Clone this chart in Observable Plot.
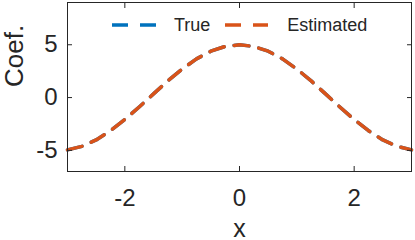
<!DOCTYPE html>
<html><head><meta charset="utf-8">
<script src="https://cdn.jsdelivr.net/npm/d3@7"></script>
<script src="https://cdn.jsdelivr.net/npm/@observablehq/plot@0.6"></script>
<style>
body{margin:0;background:#fff}
#wrap{position:relative;width:415px;height:240px;font-family:"Liberation Sans",Arial,Helvetica,sans-serif;color:#262626}
#legend{position:absolute;left:112px;top:13px;display:flex;align-items:center;font-size:18px;line-height:24px;white-space:nowrap}
#legend svg{display:block}
</style>
</head><body><div id="wrap"><div id="legend"></div></div>
<script>
const xs       = [-3, -2.75, -2.5, -2.25, -2, -1.75, -1.5, -1.25, -1, -0.75, -0.5, -0.25, 0, 0.25, 0.5, 0.75, 1, 1.25, 1.5, 1.75, 2, 2.25, 2.5, 2.75, 3];
const trueVals = [-4.95, -4.62, -4.01, -3.14, -2.08, -0.89, 0.35, 1.58, 2.70, 3.66, 4.39, 4.84, 5.00, 4.84, 4.39, 3.66, 2.70, 1.58, 0.35, -0.89, -2.08, -3.14, -4.01, -4.62, -4.95];
const estVals  = [-4.95, -4.62, -4.01, -3.14, -2.08, -0.89, 0.35, 1.58, 2.70, 3.66, 4.39, 4.84, 5.00, 4.84, 4.39, 3.66, 2.70, 1.58, 0.35, -0.89, -2.08, -3.14, -4.01, -4.62, -4.95];
const seriesNames = ["True", "Estimated"];
const seriesColors = ["#0072BD", "#D95319"];
const xTicks = [-2, 0, 2];
const yTicks = [-5, 0, 5];
const xLabel = "x";
const yLabel = "Coef.";

const data = [];
xs.forEach((x, i) => data.push({x, y: trueVals[i], series: seriesNames[0]}));
xs.forEach((x, i) => data.push({x, y: estVals[i], series: seriesNames[1]}));

const fmt = d => String(d);
const chart = Plot.plot({
  width: 415, height: 240,
  marginLeft: 67, marginRight: 4, marginTop: 2, marginBottom: 69,
  style: {fontFamily: '"Liberation Sans", Arial, Helvetica, sans-serif', fontSize: "24px", color: "#262626", background: "white", overflow: "visible"},
  x: {domain: [-3, 3]},
  y: {domain: [-7, 9]},
  color: {domain: seriesNames, range: seriesColors},
  marks: [
    Plot.line(data, {x: "x", y: "y", z: "series", stroke: "series", strokeWidth: 3.5, strokeDasharray: "15,10"}),
    Plot.axisX(xTicks, {anchor: "bottom", tickSize: -5, tickPadding: 22, tickFormat: fmt, label: null, stroke: "#262626"}),
    Plot.axisX(xTicks, {anchor: "top", tickSize: -5, tickFormat: () => "", label: null, stroke: "#262626"}),
    Plot.axisY(yTicks, {anchor: "left", tickSize: -5, tickPadding: 15, tickFormat: fmt, label: null, stroke: "#262626"}),
    Plot.axisY(yTicks, {anchor: "right", tickSize: -5, tickFormat: () => "", label: null, stroke: "#262626"}),
    Plot.frame({stroke: "#262626", strokeWidth: 1}),
    Plot.text([xLabel], {frameAnchor: "bottom", dy: 57, fontSize: 25, fill: "#262626", lineAnchor: "middle"}),
    Plot.text([yLabel], {frameAnchor: "left", dx: -53, rotate: -90, fontSize: 26, fill: "#262626", lineAnchor: "middle"})
  ]
});
const wrap = document.getElementById("wrap");
wrap.insertBefore(chart, wrap.firstChild);

const legend = document.getElementById("legend");
const gaps = [[17, 15], [19, 0]];
seriesNames.forEach((name, i) => {
  const w = i === 0 ? 45 : 43;
  const sw = document.createElementNS("http://www.w3.org/2000/svg", "svg");
  sw.setAttribute("width", w); sw.setAttribute("height", 6);
  const ln = document.createElementNS("http://www.w3.org/2000/svg", "line");
  ln.setAttribute("x1", 0); ln.setAttribute("x2", w); ln.setAttribute("y1", 3); ln.setAttribute("y2", 3);
  ln.setAttribute("stroke", seriesColors[i]); ln.setAttribute("stroke-width", 3.5);
  ln.setAttribute("stroke-dasharray", "16,12");
  sw.appendChild(ln);
  legend.appendChild(sw);
  const t = document.createElement("span");
  t.textContent = name;
  t.style.marginLeft = gaps[i][0] + "px";
  t.style.marginRight = gaps[i][1] + "px";
  legend.appendChild(t);
});
</script>
</body></html>
